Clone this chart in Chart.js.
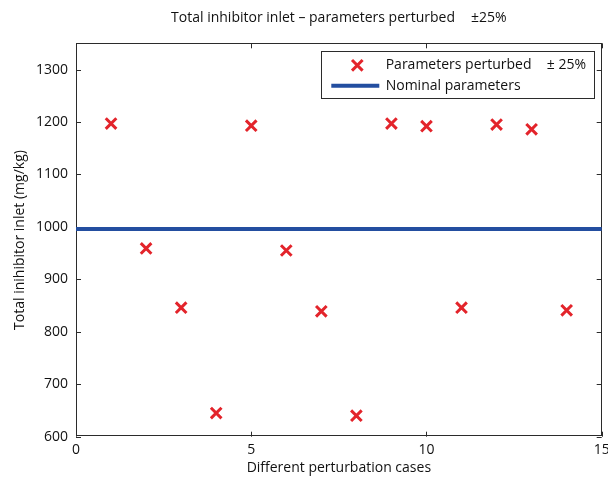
<!DOCTYPE html>
<html>
<head>
<meta charset="utf-8">
<script src="https://cdn.jsdelivr.net/npm/chart.js@4"></script>
<style>
  html, body { margin: 0; padding: 0; background: #fff; }
  #wrap { width: 608px; height: 478px; }
</style>
</head>
<body>
<div id="wrap"><canvas id="c" width="608" height="478"></canvas></div>
<script>
const cases = [1, 2, 3, 4, 5, 6, 7, 8, 9, 10, 11, 12, 13, 14];
const perturbed = [1197, 959, 846, 645, 1193, 955, 839, 640, 1197, 1192, 846, 1195, 1186, 841];
const nominalX = [0, 15];
const nominalY = [996, 996];
const xTicks = [0, 5, 10, 15];
const yTicks = [600, 700, 800, 900, 1000, 1100, 1200, 1300];
const titleText = 'Total inhibitor inlet \u2013 parameters perturbed';
const titleSuffix = '\u00B125%';
const legendLabels = ['Parameters perturbed', '\u00B1 25%', 'Nominal parameters'];

const FONT = "'Open Sans'";
const FS = 14;
const AXIS = '#2b2b2b';
const RED = '#e3242b';
const BLUE = '#234ea0';

const framePlugin = {
  id: 'frame',
  beforeDatasetsDraw(chart) {
    const {ctx, chartArea: a, scales} = chart;
    ctx.save();
    ctx.strokeStyle = AXIS;
    ctx.lineWidth = 1;
    ctx.strokeRect(Math.round(a.left) + 0.5, Math.round(a.top) + 0.5,
      Math.round(a.right - a.left) - 1, Math.round(a.bottom - a.top) - 1);
    const tl = 5;
    ctx.beginPath();
    xTicks.forEach(v => {
      const px = Math.round(scales.x.getPixelForValue(v)) + 0.5;
      ctx.moveTo(px, a.bottom); ctx.lineTo(px, a.bottom - tl);
      ctx.moveTo(px, a.top); ctx.lineTo(px, a.top + tl);
    });
    yTicks.forEach(v => {
      const py = Math.round(scales.y.getPixelForValue(v)) + 0.5;
      ctx.moveTo(a.left, py); ctx.lineTo(a.left + tl, py);
      ctx.moveTo(a.right, py); ctx.lineTo(a.right - tl, py);
    });
    ctx.stroke();
    ctx.restore();
  },
  afterDraw(chart) {
    const {ctx, chartArea: a} = chart;
    ctx.save();
    ctx.fillStyle = '#111';
    ctx.font = FS + 'px ' + FONT;
    ctx.textBaseline = 'middle';
    const w1 = ctx.measureText(titleText).width;
    const gap = 16;
    const w2 = ctx.measureText(titleSuffix).width;
    const cx = (a.left + a.right) / 2;
    let sx = cx - (w1 + gap + w2) / 2;
    ctx.textAlign = 'left';
    ctx.fillText(titleText, sx, 18);
    ctx.fillText(titleSuffix, sx + w1 + gap, 18);

    const bw = 272.7, bh = 46.7;
    const bx = a.right - 7.7 - bw, by = a.top + 8;
    ctx.fillStyle = '#fff';
    ctx.fillRect(bx, by, bw, bh);
    ctx.strokeStyle = AXIS;
    ctx.lineWidth = 1;
    ctx.strokeRect(Math.round(bx) + 0.5, Math.round(by) + 0.5, Math.round(bw), Math.round(bh));
    const r1 = by + 14, r2 = by + 34.5;
    const ds0 = chart.data.datasets[0];
    ctx.strokeStyle = ds0.borderColor;
    ctx.lineWidth = ds0.borderWidth;
    const mx = bx + 36, m = 5.3;
    ctx.beginPath();
    ctx.moveTo(mx - m, r1 - m); ctx.lineTo(mx + m, r1 + m);
    ctx.moveTo(mx - m, r1 + m); ctx.lineTo(mx + m, r1 - m);
    ctx.stroke();
    const ds1 = chart.data.datasets[1];
    ctx.strokeStyle = ds1.borderColor;
    ctx.lineWidth = ds1.borderWidth;
    ctx.beginPath();
    ctx.moveTo(bx + 10, r2); ctx.lineTo(bx + 58, r2);
    ctx.stroke();
    ctx.fillStyle = '#111';
    ctx.font = FS + 'px ' + FONT;
    ctx.textAlign = 'left';
    ctx.fillText(legendLabels[0], bx + 64.4, r1);
    ctx.fillText(legendLabels[2], bx + 64.4, r2);
    ctx.textAlign = 'right';
    ctx.fillText(legendLabels[1], bx + bw - 8, r1);
    ctx.restore();
  }
};

new Chart(document.getElementById('c'), {
  type: 'scatter',
  data: {
    datasets: [
      {
        label: legendLabels[0] + ' ' + legendLabels[1],
        data: cases.map((c, i) => ({x: c, y: perturbed[i]})),
        pointStyle: 'crossRot',
        pointRadius: 7.5,
        pointHoverRadius: 7.5,
        borderColor: RED,
        backgroundColor: RED,
        borderWidth: 3,
        pointBorderWidth: 3,
        showLine: false
      },
      {
        type: 'line',
        label: legendLabels[2],
        data: nominalX.map((x, i) => ({x: x, y: nominalY[i]})),
        borderColor: BLUE,
        borderWidth: 4,
        pointRadius: 0,
        fill: false,
        clip: false
      }
    ]
  },
  options: {
    responsive: false,
    animation: false,
    events: [],
    layout: { autoPadding: false, padding: { left: 0, right: 6.3, top: 43.3, bottom: 0 } },
    plugins: { legend: { display: false }, title: { display: false }, tooltip: { enabled: false } },
    scales: {
      x: {
        type: 'linear', min: 0, max: 15,
        afterBuildTicks: s => { s.ticks = xTicks.map(v => ({value: v})); },
        afterFit: s => { s.height = 41.3; s.paddingLeft = 0; s.paddingRight = 0; },
        grid: { display: false, drawTicks: false },
        border: { display: false },
        ticks: { color: '#111', font: { family: FONT, size: FS }, padding: 5, maxRotation: 0,
                 callback: v => String(v) },
        title: { display: true, text: 'Different perturbation cases', color: '#111',
                 font: { family: FONT, size: FS }, padding: { top: 0, bottom: 1.6 } }
      },
      y: {
        type: 'linear', min: 600, max: 1350,
        afterBuildTicks: s => { s.ticks = yTicks.map(v => ({value: v})); },
        afterFit: s => { s.width = 76; s.paddingTop = 0; s.paddingBottom = 0; },
        grid: { display: false, drawTicks: false },
        border: { display: false },
        ticks: { color: '#111', font: { family: FONT, size: FS }, padding: 8,
                 callback: v => String(v) },
        title: { display: true, text: 'Total inihibitor inlet (mg/kg)', color: '#111',
                 font: { family: FONT, size: FS }, padding: { top: 11.6, bottom: 0 } }
      }
    }
  },
  plugins: [framePlugin]
});
</script>
</body>
</html>
